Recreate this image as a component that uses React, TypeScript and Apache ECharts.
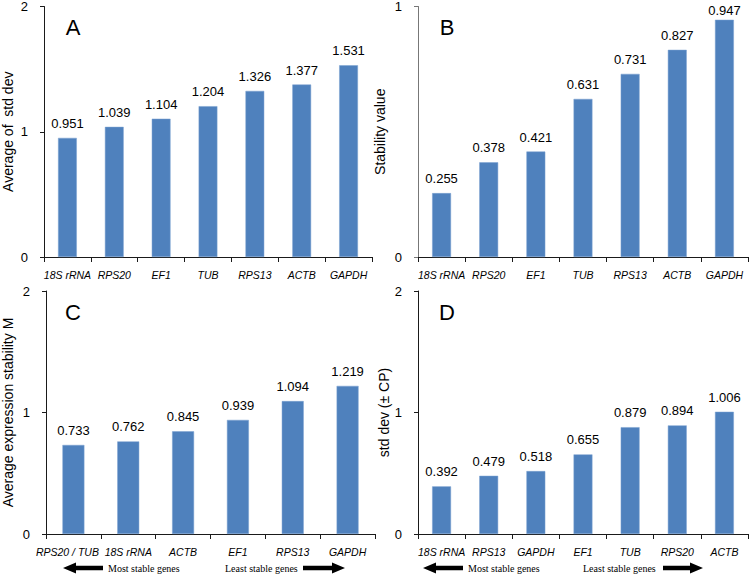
import React, { useEffect, useRef } from "react";
import * as echarts from "echarts";

const catsA = ["18S rRNA", "RPS20", "EF1", "TUB", "RPS13", "ACTB", "GAPDH"];
const valsA = [0.951, 1.039, 1.104, 1.204, 1.326, 1.377, 1.531];
const catsB = ["18S rRNA", "RPS20", "EF1", "TUB", "RPS13", "ACTB", "GAPDH"];
const valsB = [0.255, 0.378, 0.421, 0.631, 0.731, 0.827, 0.947];
const catsC = ["RPS20 / TUB", "18S rRNA", "ACTB", "EF1", "RPS13", "GAPDH"];
const valsC = [0.733, 0.762, 0.845, 0.939, 1.094, 1.219];
const catsD = ["18S rRNA", "RPS13", "GAPDH", "EF1", "TUB", "RPS20", "ACTB"];
const valsD = [0.392, 0.479, 0.518, 0.655, 0.879, 0.894, 1.006];

const panels = [
  { cats: catsA, vals: valsA, max: 2, name: "Average of  std dev", letter: "A", grid: { left: 37, top: 5, width: 335, height: 252 }, nameGap: 29, letterPos: [73, 27] },
  { cats: catsB, vals: valsB, max: 1, name: "Stability value", letter: "B", grid: { left: 418, top: 5, width: 330, height: 252 }, nameGap: 31, letterPos: [447, 27] },
  { cats: catsC, vals: valsC, max: 2, name: "Average expression stability M", letter: "C", grid: { left: 38, top: 291, width: 337, height: 243 }, nameGap: 31, letterPos: [73, 312] },
  { cats: catsD, vals: valsD, max: 2, name: "std dev (\u00b1 CP)", letter: "D", grid: { left: 418, top: 291, width: 330, height: 243 }, nameGap: 27, letterPos: [447, 312] },
];

const SANS = "Liberation Sans, Arial, sans-serif";
const SERIF = "Liberation Serif, Times New Roman, serif";

function arrow(x1: number, x2: number, y: number, dir: "left" | "right") {
  const head = 13;
  const hh = 5.5;
  const sh = 2.2;
  let pts: number[][];
  if (dir === "left") {
    const tip = x1;
    const b = x1 + head;
    pts = [[tip, y], [b, y - hh], [b, y - sh], [x2, y - sh], [x2, y + sh], [b, y + sh], [b, y + hh]];
  } else {
    const tip = x2;
    const b = x2 - head;
    pts = [[tip, y], [b, y - hh], [b, y - sh], [x1, y - sh], [x1, y + sh], [b, y + sh], [b, y + hh]];
  }
  return { type: "polygon", shape: { points: pts }, style: { fill: "#000" }, silent: true };
}

function txt(x: number, y: number, text: string, size: number, family: string, align = "center") {
  return { type: "text", x, y, style: { text, fontSize: size, fontFamily: family, fill: "#000", align, verticalAlign: "middle" }, silent: true };
}

export default function App() {
  const ref = useRef<HTMLDivElement>(null);
  useEffect(() => {
    if (!ref.current) return;
    const chart = echarts.init(ref.current, undefined, { renderer: "svg" });
    const axisColor = "#1a1a1a";
    const option: any = {
      animation: false,
      backgroundColor: "#fff",
      grid: panels.map((p) => ({ ...p.grid, containLabel: false })),
      xAxis: panels.map((p, i) => ({
        type: "category",
        gridIndex: i,
        data: p.cats.map((c) =>
          c.length > 9 ? { value: c, textStyle: { padding: [0, 12, 0, 0] } } : c
        ),
        boundaryGap: true,
        axisLine: { show: true, lineStyle: { color: axisColor, width: 1 } },
        axisTick: { show: true, interval: 0, length: 5, lineStyle: { color: axisColor } },
        axisLabel: { interval: 0, fontSize: 10.5, fontStyle: "italic", fontFamily: SANS, color: "#000", margin: 12 },
        splitLine: { show: false },
      })),
      yAxis: panels.map((p, i) => ({
        type: "value",
        gridIndex: i,
        min: 0,
        max: p.max,
        interval: 1,
        name: p.name,
        nameLocation: "middle",
        nameGap: p.nameGap,
        nameTextStyle: { fontSize: 14, fontFamily: SANS, color: "#000" },
        axisLine: { show: true, lineStyle: { color: i === 1 ? "#777" : axisColor, width: 1 } },
        axisTick: { show: true, length: 4, lineStyle: { color: i === 1 ? "#777" : axisColor } },
        axisLabel: { fontSize: 13, fontFamily: SANS, color: "#000", margin: 16 },
        splitLine: { show: false },
      })),
      series: panels.map((p, i) => ({
        type: "bar",
        xAxisIndex: i,
        yAxisIndex: i,
        data: p.vals.map((v) =>
          v / p.max > 0.9 ? { value: v, label: { distance: 3 } } : v
        ),
        barWidth: "40%",
        itemStyle: { color: "#4f81bd", borderColor: "#7aa0d0", borderWidth: 0.5 },
        label: {
          show: true,
          position: "top",
          distance: 8,
          fontSize: 13,
          fontFamily: SANS,
          color: "#000",
          formatter: (d: any) => Number(d.value).toFixed(3),
        },
      })),
      graphic: [
        ...panels.map((p) => txt(p.letterPos[0], p.letterPos[1], p.letter, 22, SANS)),
        arrow(63, 103, 568, "left"),
        txt(108, 568, "Most stable genes", 10, SERIF, "left"),
        txt(225, 568, "Least stable genes", 10, SERIF, "left"),
        arrow(303, 345, 568, "right"),
        arrow(423, 463, 568, "left"),
        txt(468, 568, "Most stable genes", 10, SERIF, "left"),
        txt(583, 568, "Least stable genes", 10, SERIF, "left"),
        arrow(663, 703, 568, "right"),
      ],
    };
    chart.setOption(option);
    return () => chart.dispose();
  }, []);
  return <div ref={ref} style={{ position: "absolute", left: 0, top: 0, width: 750, height: 575 }} />;
}
